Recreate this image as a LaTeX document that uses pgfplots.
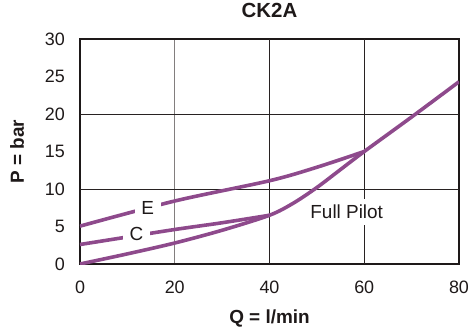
\documentclass[border=0pt]{standalone}
\usepackage{pgfplots}
\pgfplotsset{compat=1.18}
\usepackage{fontspec}
\setmainfont{Liberation Sans}
\definecolor{cpurple}{RGB}{142,74,140}
\definecolor{gridgray}{RGB}{130,126,126}
\definecolor{griddark}{RGB}{40,34,34}
\definecolor{framec}{RGB}{30,25,25}
\begin{document}
\begin{tikzpicture}
\path[use as bounding box] (-80bp,-70bp) rectangle (391bp,264bp);
\begin{axis}[
  scale only axis, width=379bp, height=225bp,
  xmin=0, xmax=80, ymin=0, ymax=30,
  xtick={0,20,40,60,80}, ytick={0,5,10,15,20,25,30},
  major tick length=0pt,
  axis line style={line width=2.2bp, color=framec},
  /pgf/number format/assume math mode=true,
  tick label style={font=\fontsize{18}{21}\selectfont, text=framec},
  xticklabel style={anchor=north, inner sep=0pt, yshift=-17bp},
  yticklabel style={anchor=east, inner sep=0pt, xshift=-15bp},
  xmajorgrids,
  major grid style={line width=1bp, color=gridgray},
  extra x ticks={40,60},
  extra x tick labels={},
  extra x tick style={grid=major, major grid style={line width=1bp, color=griddark}},
  extra y ticks={10,20},
  extra y tick labels={},
  extra y tick style={grid=major, major grid style={line width=1bp, color=griddark}},
  title={CK2A},
  title style={font=\bfseries\fontsize{20.5}{24}\selectfont, text=framec, at={(axis description cs:0.5,1.0711)}, anchor=base, inner sep=0pt},
  xlabel={Q = l/min},
  xlabel style={font=\bfseries\fontsize{19}{22}\selectfont, text=framec, at={(axis description cs:0.5,-0.2636)}, anchor=base, inner sep=0pt},
  ylabel={P = bar},
  ylabel style={font=\bfseries\fontsize{19}{22}\selectfont, text=framec, at={(axis description cs:-0.1478,0.5)}, anchor=base, inner sep=0pt},
]
% Full Pilot
\addplot[cpurple, line width=3.6bp, smooth, tension=0.5] coordinates {
  (0,0) (10,1.35) (20,2.8) (30,4.5) (40,6.5) (45,8.1) (50,10.2) (55,12.6) (60,15) (70,19.6) (80,24.3)
};
% E
\addplot[cpurple, line width=3.6bp, smooth, tension=0.5] coordinates {
  (0,5.05) (20,8.4) (40,11.1) (50,12.9) (60,15)
};
% C
\addplot[cpurple, line width=3.6bp, smooth, tension=0.5] coordinates {
  (0,2.6) (10,3.6) (20,4.6) (30,5.5) (40,6.5)
};
\node[fill=white, inner xsep=6.5bp, inner ysep=1bp, font=\fontsize{19}{21}\selectfont, text=framec] at (axis cs:14.3,7.5) {E};
\node[fill=white, inner xsep=7bp, inner ysep=1bp, font=\fontsize{19}{21}\selectfont, text=framec] at (axis cs:11.9,4.0) {C};
\node[fill=white, inner xsep=3bp, inner ysep=6bp, font=\fontsize{19}{21}\selectfont, text=framec] at (axis cs:56.3,6.95) {Full Pilot};
\end{axis}
\end{tikzpicture}
\end{document}
